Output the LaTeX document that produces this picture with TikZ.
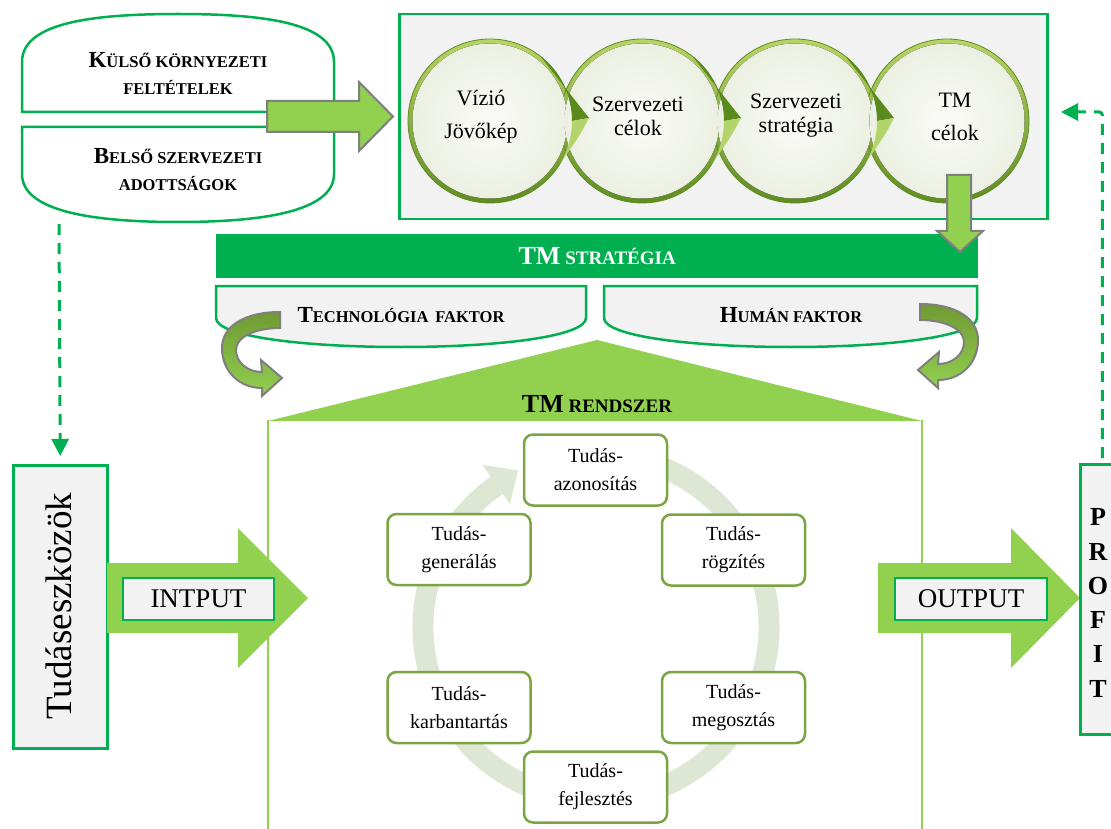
\documentclass[tikz,border=0pt]{standalone}
\usepackage{fontspec}
\setmainfont{Liberation Serif}
\usetikzlibrary{calc,arrows.meta}

\definecolor{gdark}{HTML}{00B050}
\definecolor{glight}{HTML}{92D050}
\definecolor{paper}{HTML}{F2F2F2}
\definecolor{arrgray}{HTML}{7F7F7F}
\definecolor{ringcol}{HTML}{DDE7D3}
\definecolor{cycbord}{HTML}{7AA542}
\definecolor{rimlight}{HTML}{B9D465}
\definecolor{rimdark}{HTML}{5F8C22}
\definecolor{discin}{HTML}{FAFBF7}
\definecolor{discout}{HTML}{ECF0E2}
\definecolor{taildark}{HTML}{5A8A1C}
\definecolor{taillight}{HTML}{B3D46A}
\definecolor{curltop}{HTML}{6F9A33}

% fake small caps: large initial, smaller capitals
\newcommand\capL[1]{{\fontsize{23}{27}\selectfont #1}}
\newcommand\capTM[1]{{\fontsize{26}{30}\selectfont #1}}

\begin{document}
\begin{tikzpicture}[x=1pt,y=-1pt,
  greenline/.style={draw=gdark, line width=2.5pt},
  paperbox/.style={greenline, fill=paper},
  blockarrow/.style={fill=glight, draw=arrgray, line width=2pt, line join=miter},
  curlarrow/.style={top color=curltop, bottom color=glight, draw=arrgray, line width=2pt},
  stepbox/.style={draw=cycbord, line width=2.5pt, rounded corners=9pt, fill=white,
    minimum width=143pt, minimum height=71pt, align=center,
    font=\fontsize{20}{28}\selectfont},
  scfont/.style={font=\fontsize{16.5}{27}\selectfont\bfseries, align=center},
  tmfont/.style={font=\fontsize{19}{22}\selectfont\bfseries},
  circtext/.style={align=center, font=\fontsize{22}{#1}\selectfont},
  dasharrow/.style={draw=gdark, line width=3pt, dash pattern=on 11pt off 8pt,
    -{Triangle[length=17pt,width=17pt]}},
  disc/.style={circle, minimum size=164pt, inner sep=0pt, top color=rimlight, bottom color=rimdark,
    draw=rimdark, line width=0.8pt}
]
\useasboundingbox (0,0) rectangle (1111,829);

% ---- environment / organisation shapes (top left)
\draw[greenline, fill=white] (22,112) -- (22,62) .. controls (22,22) and (95,14) .. (178,14)
  .. controls (261,14) and (334,22) .. (334,62) -- (334,112) -- cycle;
\draw[greenline, fill=white] (22,127) -- (22,174) .. controls (22,212) and (95,222) .. (178,222)
  .. controls (261,222) and (334,212) .. (334,174) -- (334,127) -- cycle;
\node[scfont] (kulso) at (178,73.5) {\capL{K}ÜLSŐ KÖRNYEZETI\\FELTÉTELEK};
\node[scfont] (belso) at (178,170) {\capL{B}ELSŐ SZERVEZETI\\ADOTTSÁGOK};
\coordinate (belsobot) at (59,224);

% ---- strategy chain box
\node[paperbox, minimum width=648pt, minimum height=205pt, anchor=north west, inner sep=0pt]
  (chain) at (398,13) {};

\node[disc] (c1) at (490,121) {};
\node[disc] (c2) at (642,121) {};
\node[disc] (c3) at (795,121) {};
\node[disc] (c4) at (947,121) {};
\foreach \c in {c1,c2,c3,c4}{
  \fill[inner color=discin, outer color=discout] (\c.center) circle[radius=77.5];
}
% pointers from each stage to the next: dark upper half, light lower half
\foreach \c in {c1,c2,c3}{
  \fill[taildark] ($(\c.center)+(-52:82)$) -- ($(\c.center)+(99,-3)$)
    -- ($(\c.center)+(0:82)$) arc[start angle=0, end angle=-52, radius=82] -- cycle;
  \fill[taillight] ($(\c.center)+(0:82)$) -- ($(\c.center)+(99,-3)$)
    .. controls ($(\c.center)+(90,14)$) .. ($(\c.center)+(32:82)$)
    arc[start angle=32, end angle=0, radius=82] -- cycle;
}
\node[circtext=33] (t1) at (481,116.5) {Vízió\\Jövőkép};
\node[circtext=24] (t2) at (638,116) {Szervezeti\\célok};
\node[circtext=24] (t3) at (796,116) {Szervezeti\\stratégia};
\node[circtext=33] (t4) at (955,116.5) {TM\\célok};

% ---- block arrow into the chain
\draw[blockarrow] (267,101) -- (359,101) -- (359,82) -- (393,116.5) -- (359,151) -- (359,132) -- (267,132) -- cycle;

% ---- TM strategy bar
\node[fill=gdark, minimum width=762pt, minimum height=44pt, anchor=north west, inner sep=0pt,
  text=white, tmfont] (tmstrat) at (216,234) {\capTM{TM} STRATÉGIA};

% block arrow down from TM goals
\draw[blockarrow] (947,175) -- (971,175) -- (971,231) -- (983,231) -- (960,252) -- (937,231) -- (947,231) -- cycle;

% ---- factor shapes
\draw[paperbox] (216,286) -- (216,318) .. controls (216,336) and (300,347) .. (401,347)
  .. controls (502,347) and (586,336) .. (586,318) -- (586,286) -- cycle;
\draw[paperbox] (604,286) -- (604,318) .. controls (604,336) and (690,347) .. (791,347)
  .. controls (892,347) and (977,336) .. (977,318) -- (977,286) -- cycle;
\node[scfont] (tech) at (401,315) {\capL{T}ECHNOLÓGIA\, FAKTOR};
\node[scfont] (human) at (791,315) {\capL{H}UMÁN FAKTOR};

% curled arrows
\draw[curlarrow] (280,312) .. controls (245,312) and (222,326) .. (222,348)
  .. controls (222,372) and (240,388) .. (262,388) -- (262,396) -- (282,378) -- (261,360) -- (262,372)
  .. controls (247,372) and (236,362) .. (236,350) .. controls (236,337) and (255,328) .. (280,328) -- cycle;
\draw[curlarrow] (920,304) .. controls (955,304) and (978,318) .. (978,340)
  .. controls (978,364) and (960,380) .. (938,380) -- (938,388) -- (918,370) -- (939,352) -- (938,364)
  .. controls (953,364) and (964,354) .. (964,342) .. controls (964,329) and (945,320) .. (920,320) -- cycle;

% ---- TM system frame
\fill[glight] (597,340) -- (922,421) -- (268,421) -- cycle;
\draw[glight, line width=2.5pt] (268,420) -- (268,832);
\draw[glight, line width=2.5pt] (922,420) -- (922,832);
\node[tmfont] (tmsys) at (597,404) {\capTM{TM} RENDSZER};

% ---- knowledge cycle
\coordinate (ringc) at (596,627);
\draw[ringcol, line width=21pt] ($(ringc)+(-70:173)$) arc[start angle=-70, end angle=237, radius=173];
\fill[ringcol] ($(ringc)+(235:150)$) -- ($(ringc)+(243.5:175)$) -- ($(ringc)+(235:198)$) -- cycle;

\node[stepbox] (azon) at (595.5,470) {Tudás-\\azonosítás};
\node[stepbox] (rogz) at (733.5,550) {Tudás-\\rögzítés};
\node[stepbox] (megos) at (733.5,707.5) {Tudás-\\megosztás};
\node[stepbox] (fejl) at (595.5,787) {Tudás-\\fejlesztés};
\node[stepbox] (karb) at (459,707.5) {Tudás-\\karbantartás};
\node[stepbox] (gener) at (459,549.5) {Tudás-\\generálás};

% ---- knowledge tools and input
\node[paperbox, minimum width=94pt, minimum height=283pt, anchor=north west, inner sep=0pt]
  (eszk) at (12,464) {};
\node[rotate=90, font=\fontsize{37}{40}\selectfont] (eszktext) at (59,606) {Tudáseszközök};
\fill[glight] (107,563) -- (238,563) -- (238,528) -- (308,598) -- (238,668) -- (238,633) -- (107,633) -- cycle;
\node[paperbox, minimum width=151pt, minimum height=42pt, inner sep=0pt,
  font=\fontsize{27}{30}\selectfont] (inp) at (198.5,599) {INTPUT};

% ---- output and profit
\fill[glight] (878,563) -- (1011,563) -- (1011,528) -- (1080,598) -- (1011,668) -- (1011,633) -- (878,633) -- cycle;
\node[paperbox, minimum width=152pt, minimum height=42pt, inner sep=0pt,
  font=\fontsize{27}{30}\selectfont] (outp) at (971,599) {OUTPUT};
\node[paperbox, minimum width=44pt, minimum height=270pt, anchor=north west, inner sep=0pt]
  (profit) at (1079,463) {};
\node[align=center, font=\fontsize{26}{34.3}\selectfont\bfseries] (profittext) at (1098,603) {P\\R\\O\\F\\I\\T};

% ---- dashed feedback connectors
\draw[dasharrow] (belsobot) -- ($(eszk.north)+(0,-8)$);
\coordinate (backtip) at (1061,112);
\draw[dasharrow, rounded corners=3pt] ($(profit.north)+(0,-5)$) |- (backtip);

\end{tikzpicture}
\end{document}
